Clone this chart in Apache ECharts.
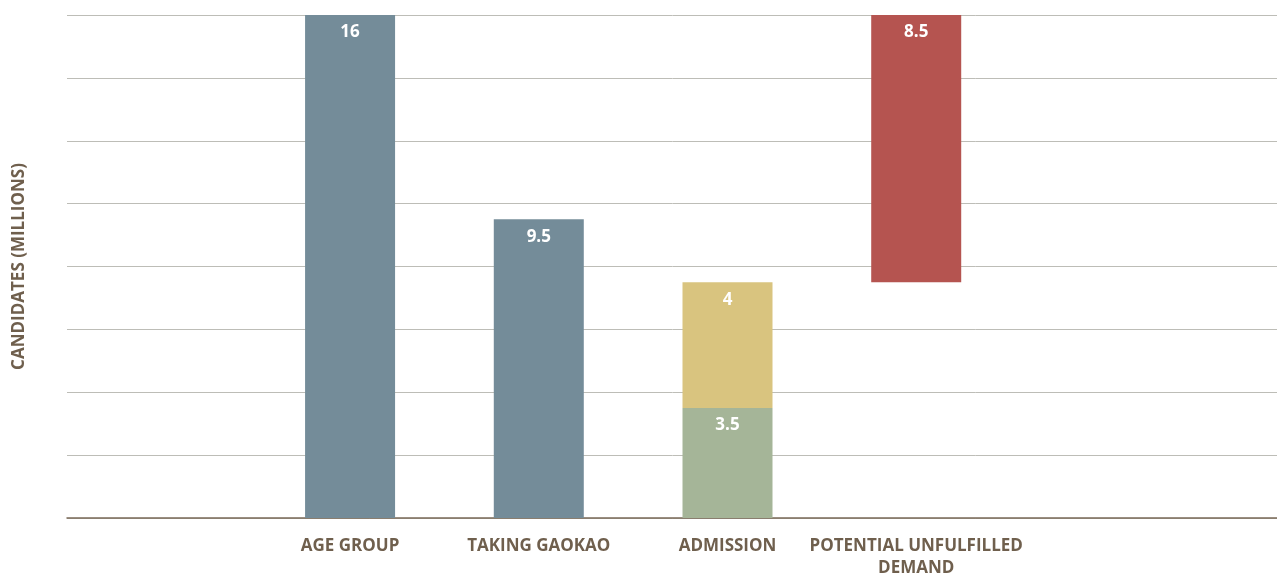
<!DOCTYPE html>
<html>
<head>
<meta charset="utf-8">
<script src="https://cdn.jsdelivr.net/npm/echarts@6/dist/echarts.min.js"></script>
<style>
  html, body { margin: 0; padding: 0; background: #ffffff; }
  #chart { width: 1277px; height: 574px; }
</style>
</head>
<body>
<div id="chart"></div>
<script>
// Categories along the funnel (blank slots pad the axis on both sides)
const categories = ['', 'AGE GROUP', 'TAKING GAOKAO', 'ADMISSION', 'POTENTIAL UNFULFILLED\nDEMAND', '', ''];

// Candidates, in millions
const cohortValues      = [null, 16, 9.5, null, null, null, null];
const admittedValues    = [null, null, null, 3.5, null, null, null];
const extraValues       = [null, null, null, 4, null, null, null];
const offsetValues      = [null, null, null, null, 7.5, null, null];
const unfulfilledValues = [null, null, null, null, 8.5, null, null];

// Y axis range
const yMin = 0;
const yMax = 16;
const yStep = 2;

const FONT = '"Open Sans", "Lato", sans-serif';
const BROWN = '#6f5f4d';

const valueLabel = {
  show: true,
  position: 'insideTop',
  distance: 9,
  color: '#ffffff',
  fontFamily: FONT,
  fontWeight: 'bold',
  fontSize: 17
};

function barSeries(name, data, color, withLabel) {
  return {
    name: name,
    type: 'bar',
    stack: 'funnel',
    data: data,
    barWidth: 90,
    itemStyle: { color: color },
    label: withLabel ? valueLabel : { show: false },
    emphasis: { disabled: true },
    silent: !withLabel
  };
}

const chart = echarts.init(document.getElementById('chart'), null, { renderer: 'canvas' });

chart.setOption({
  animation: false,
  backgroundColor: '#ffffff',
  grid: {
    left: 67,
    top: 15,
    bottom: 56,
    right: -111,
    outerBoundsMode: 'none',
    containLabel: false
  },
  xAxis: {
    type: 'category',
    data: categories,
    axisLine: { show: true, lineStyle: { color: '#7a6a58', width: 1.5 } },
    axisTick: { show: false },
    axisLabel: {
      color: BROWN,
      fontFamily: FONT,
      fontWeight: 'bold',
      fontSize: 17,
      lineHeight: 22,
      margin: 17,
      interval: 0,
      align: 'center'
    }
  },
  yAxis: {
    type: 'value',
    min: yMin,
    max: yMax,
    interval: yStep,
    name: 'CANDIDATES (MILLIONS)',
    nameLocation: 'middle',
    nameGap: 39,
    nameRotate: 90,
    nameTextStyle: {
      color: BROWN,
      fontFamily: FONT,
      fontWeight: 'bold',
      fontSize: 17
    },
    axisLine: { show: false },
    axisTick: { show: false },
    axisLabel: { show: false },
    splitLine: { show: true, lineStyle: { color: '#bdbdb7', width: 1 } }
  },
  series: [
    barSeries('Cohort', cohortValues, '#748c99', true),
    barSeries('Admitted', admittedValues, '#a5b598', true),
    barSeries('Additional places', extraValues, '#d9c47f', true),
    barSeries('Offset', offsetValues, 'transparent', false),
    barSeries('Unfulfilled demand', unfulfilledValues, '#b55450', true)
  ]
});
</script>
</body>
</html>
